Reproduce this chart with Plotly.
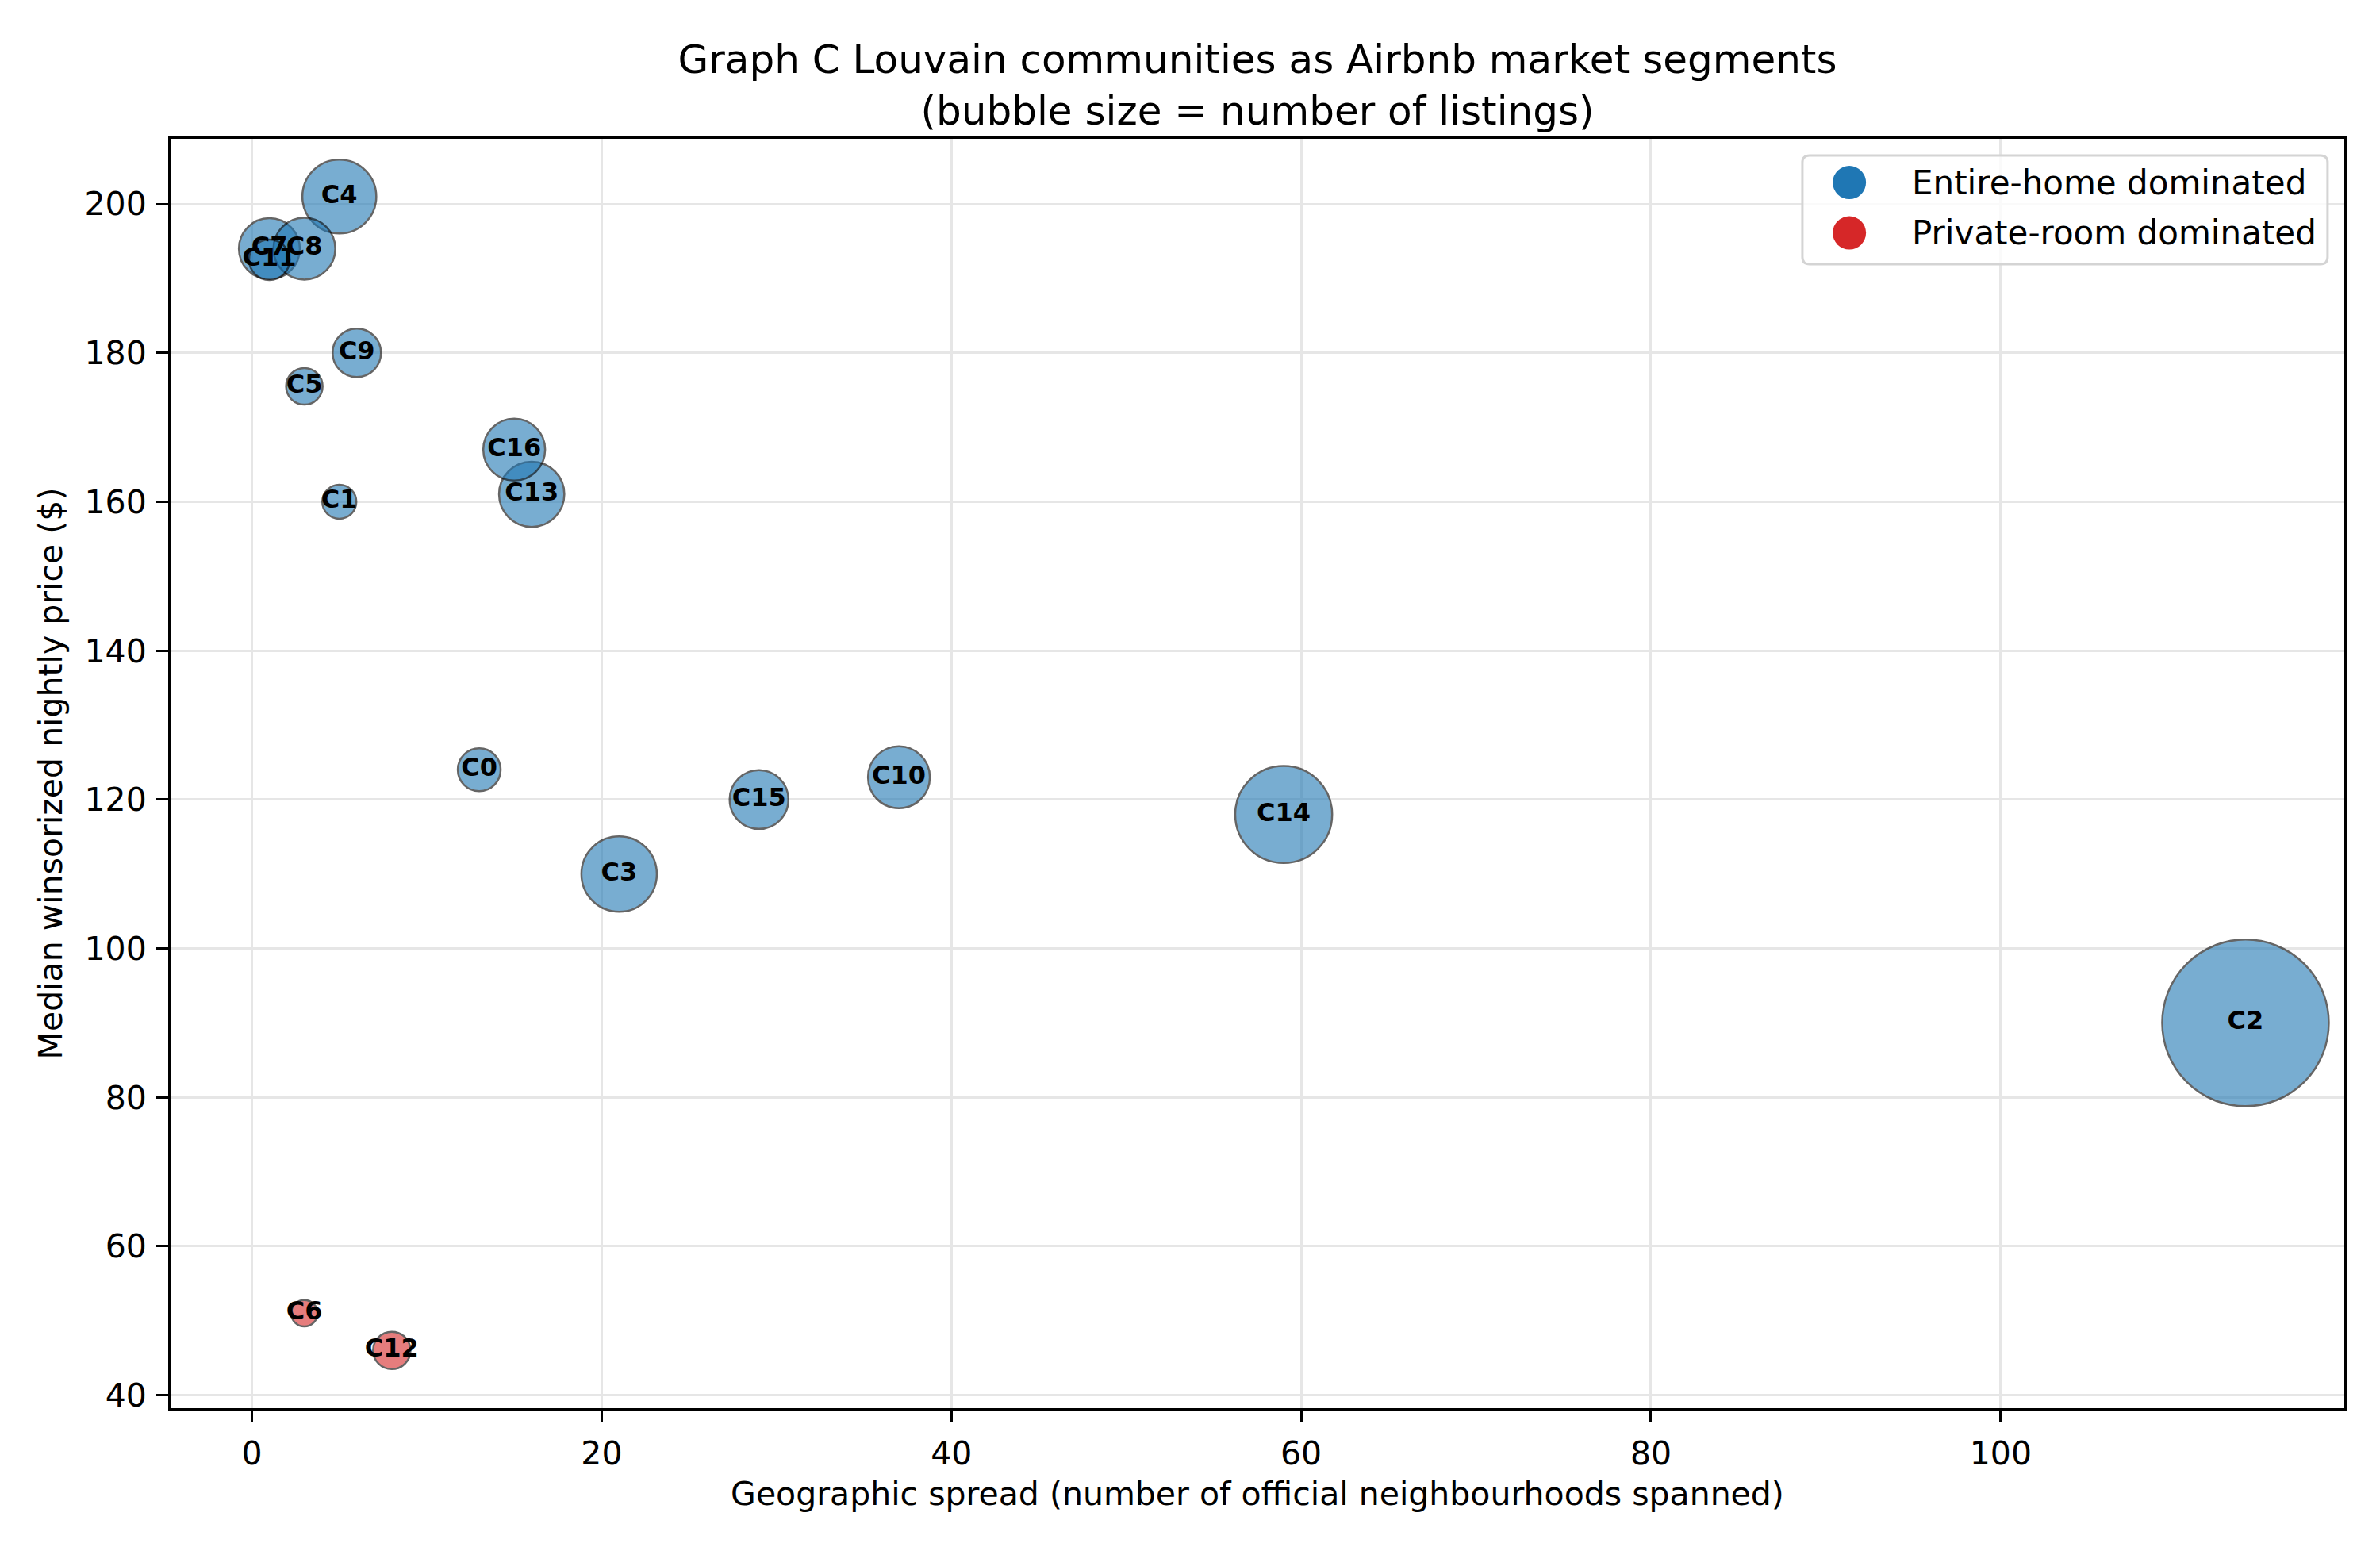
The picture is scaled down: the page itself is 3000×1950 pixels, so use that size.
import plotly.graph_objects as go

# community data
communities = ["C0", "C1", "C2", "C3", "C4", "C5", "C6", "C7", "C8",
               "C9", "C10", "C11", "C12", "C13", "C14", "C15", "C16"]
neighbourhoods = [13, 5, 114, 21, 5, 3, 3, 1, 3, 6, 37, 1, 8, 16, 59, 29, 15]
median_price = [124, 160, 90, 110, 201, 175.5, 51, 194, 194, 180, 123, 192.5,
                46, 161, 118, 120, 167]
n_listings = [84, 53, 1270, 260, 250, 61, 32, 170, 175, 107, 175, 75, 64,
              195, 430, 158, 175]
segment = ["Entire-home", "Entire-home", "Entire-home", "Entire-home",
           "Entire-home", "Entire-home", "Private-room", "Entire-home",
           "Entire-home", "Entire-home", "Entire-home", "Entire-home",
           "Private-room", "Entire-home", "Entire-home", "Entire-home",
           "Entire-home"]

segments = ["Entire-home", "Private-room"]
seg_names = ["Entire-home dominated", "Private-room dominated"]
seg_colors = ["#1f77b4", "#d62728"]

FONT = "DejaVu Sans"
SIZEREF = 0.0576  # area mode: listings -> bubble area

fig = go.Figure()

for seg, col in zip(segments, seg_colors):
    idx = [i for i, s in enumerate(segment) if s == seg]
    fig.add_trace(go.Scatter(
        x=[neighbourhoods[i] for i in idx],
        y=[median_price[i] for i in idx],
        text=[communities[i] for i in idx],
        mode="markers+text",
        textposition="middle center",
        textfont=dict(family=FONT, size=32, color="black", weight="bold"),
        marker=dict(size=[n_listings[i] for i in idx], sizemode="area",
                    sizeref=SIZEREF, color=col, opacity=0.6,
                    line=dict(color="black", width=2.5)),
        showlegend=False,
        hovertemplate="%{text}<br>spread %{x}<br>price %{y}<extra></extra>",
    ))

# legend drawn by hand so the swatches can be as big as matplotlib's
lx0, lx1, ly0, ly1 = 0.7507, 0.9923, 0.9013, 0.9869
rx, ry = 9 / 2740, 9 / 1600
fig.add_shape(
    type="path", xref="paper", yref="paper", layer="above",
    path=(f"M {lx0+rx},{ly0} L {lx1-rx},{ly0} Q {lx1},{ly0} {lx1},{ly0+ry} "
          f"L {lx1},{ly1-ry} Q {lx1},{ly1} {lx1-rx},{ly1} "
          f"L {lx0+rx},{ly1} Q {lx0},{ly1} {lx0},{ly1-ry} "
          f"L {lx0},{ly0+ry} Q {lx0},{ly0} {lx0+rx},{ly0} Z"),
    fillcolor="rgba(255,255,255,0.8)", line=dict(color="#d4d4d4", width=3),
)
for k, (name, col) in enumerate(zip(seg_names, seg_colors)):
    yk = 0.9656 - k * 0.0397
    fig.add_shape(
        type="circle", xref="paper", yref="paper", layer="above",
        xsizemode="pixel", ysizemode="pixel", xanchor=0.7723, yanchor=yk,
        x0=-21, x1=21, y0=-21, y1=21,
        fillcolor=col, line=dict(width=0),
    )
    fig.add_annotation(
        x=0.8004, y=yk, xref="paper", yref="paper", xanchor="left",
        yanchor="middle", text=name, showarrow=False,
        font=dict(family=FONT, size=42, color="black"),
    )

axis_common = dict(
    showline=True, linecolor="black", linewidth=3, mirror=True,
    ticks="outside", ticklen=15, tickwidth=3, tickcolor="black",
    showgrid=True, gridcolor="#e6e6e6", gridwidth=3, zeroline=False,
    tickfont=dict(family=FONT, size=41, color="black"),
    ticklabelstandoff=4,
)

fig.update_layout(
    width=3000, height=1950,
    paper_bgcolor="white", plot_bgcolor="white",
    margin=dict(l=215, r=45, t=175, b=175),
    font=dict(family=FONT, color="black"),
    showlegend=False,
    title=dict(
        text="Graph C Louvain communities as Airbnb market segments<br>"
             "(bubble size = number of listings)",
        font=dict(family=FONT, size=50, color="black"),
        x=0.5, xref="paper", xanchor="center",
        y=1 - 92 / 1950, yref="container", yanchor="top",
    ),
    xaxis=dict(axis_common, range=[-4.65, 119.65], tickvals=[0, 20, 40, 60, 80, 100],
               title=dict(text="Geographic spread (number of official neighbourhoods spanned)",
                          font=dict(family=FONT, size=41), standoff=14)),
    yaxis=dict(axis_common, range=[38.25, 208.75], tickvals=[40, 60, 80, 100, 120, 140, 160, 180, 200],
               title=dict(text="Median winsorized nightly price ($)",
                          font=dict(family=FONT, size=41), standoff=16)),
)

fig.write_html("out.html", config={"displayModeBar": False},
               post_script="document.body.style.margin='0';")
